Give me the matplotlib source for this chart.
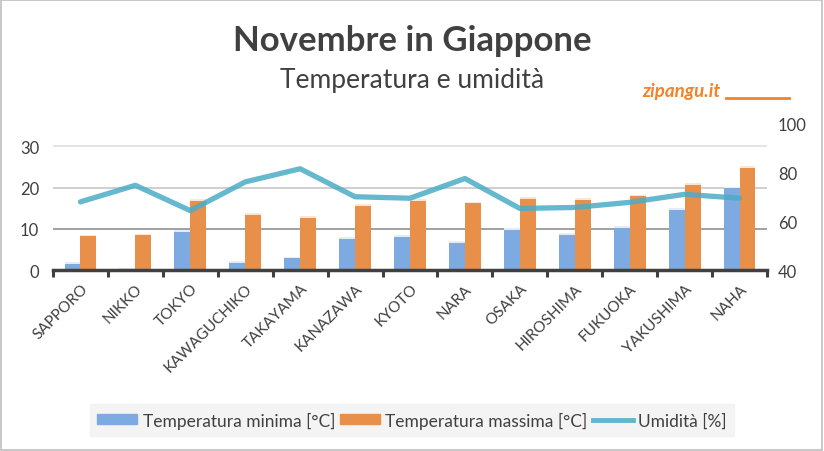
import matplotlib.pyplot as plt
import numpy as np
from matplotlib.lines import Line2D
from matplotlib.patches import Patch, Rectangle

# ======================
# Data
# ======================

cities = ["SAPPORO", "NIKKO", "TOKYO", "KAWAGUCHIKO", "TAKAYAMA", "KANAZAWA",
          "KYOTO", "NARA", "OSAKA", "HIROSHIMA", "FUKUOKA", "YAKUSHIMA", "NAHA"]
temp_min = [1.5, 0.0, 9.3, 1.8, 2.8, 7.6, 8.1, 6.6, 9.8, 8.6, 10.2, 14.6, 19.8]
temp_max = [8.2, 8.4, 16.8, 13.4, 12.7, 15.6, 16.8, 16.2, 17.3, 17.0, 17.9, 20.6, 24.7]
humidity = [68.0, 74.8, 64.4, 76.2, 81.6, 70.1, 69.5, 77.6, 65.3, 65.7, 67.8, 71.1, 69.5]

BLUE = "#7DAAE0"
ORANGE = "#E8904A"
AQUA = "#4BACC6"
TEXT = "#404040"

plt.rcParams["font.family"] = ["Lato", "DejaVu Sans"]

fig = plt.figure(figsize=(8.24, 4.52), dpi=100)
ax = fig.add_axes([0.0643, 0.4004, 0.8665, 0.3231])
ax2 = ax.twinx()

x = np.arange(len(cities))
w = 0.29

ax.bar(x - w / 2, temp_min, w, color=BLUE, zorder=2)
ax.bar(x + w / 2, temp_max, w, color=ORANGE, zorder=2)
# soft light caps on top of the bars
ax.bar(x - w / 2, 0.4, w, bottom=temp_min, color="#E3ECF8", zorder=2)
ax.bar(x + w / 2, 0.4, w, bottom=temp_max, color="#FBE6D6", zorder=2)

ax2.plot(x, humidity, color=AQUA, lw=3.8, alpha=0.85, solid_capstyle="round",
         solid_joinstyle="round", zorder=3)

ax.set_xlim(-0.5, len(cities) - 0.5)
ax.set_ylim(0, 35.4)
ax2.set_ylim(40, 100)
ax.set_yticks([0, 10, 20, 30])
ax2.set_yticks([40, 60, 80, 100])

# grid lines (shades as in the picture)
for v, c in zip([10, 20, 30], ["#9a9a9a", "#cccccc", "#e2e2e2"]):
    ax.axhline(v, color=c, lw=1.3, zorder=1)

ax.set_xticks(x)
ax.set_xticklabels(cities, rotation=45, ha="right", rotation_mode="anchor",
                   fontsize=11, color=TEXT)
ax.tick_params(axis="x", length=0, pad=8)
# category boundary ticks
ax.set_xticks(np.arange(len(cities) + 1) - 0.5, minor=True)
ax.tick_params(axis="x", which="minor", length=5, width=2.2, color=TEXT, direction="out")

ax.tick_params(axis="y", length=0, labelsize=12, labelcolor=TEXT, pad=10)
ax2.tick_params(axis="y", length=0, labelsize=12, labelcolor=TEXT, pad=8)

for a in (ax, ax2):
    for s in ("top", "left", "right", "bottom"):
        a.spines[s].set_visible(False)
ax.spines["bottom"].set_visible(True)
ax.spines["bottom"].set_color(TEXT)
ax.spines["bottom"].set_linewidth(2.5)

# titles
fig.text(0.5, 0.91, "Novembre in Giappone", ha="center", va="center",
         fontsize=25, fontweight="bold", color=TEXT)
fig.text(0.5, 0.822, "Temperatura e umidità", ha="center", va="center",
         fontsize=19, color=TEXT)
fig.text(0.78, 0.797, "zipangu.it", ha="left", va="center",
         fontsize=13.5, fontweight="bold", fontstyle="italic", color="#F5812A")
fig.add_artist(Line2D([0.881, 0.957], [0.781, 0.781], transform=fig.transFigure,
                      color="#F5812A", lw=2))

# legend
handles = [Patch(color=BLUE), Patch(color=ORANGE),
           Line2D([0], [0], color=AQUA, lw=3.5, alpha=0.85)]
labels = ["Temperatura minima [°C]", "Temperatura massima [°C]", "Umidità [%]"]
leg = fig.legend(handles, labels, loc="center", bbox_to_anchor=(0.5, 0.0686),
                 ncol=3, frameon=True, fontsize=12.5, handlelength=2.3,
                 handleheight=0.5, handletextpad=0.3, columnspacing=0.3,
                 borderpad=0.45)
leg.get_frame().set_facecolor("#F2F2F2")
leg.get_frame().set_edgecolor("#F2F2F2")
leg.get_frame().set_boxstyle("square", pad=0)
for t in leg.get_texts():
    t.set_color(TEXT)

fig.patches.append(Rectangle((0.001, 0.002), 0.997, 0.996, transform=fig.transFigure,
                             fill=False, edgecolor="#BFBFBF", lw=1.2))

fig.savefig("out.png", dpi=100)
